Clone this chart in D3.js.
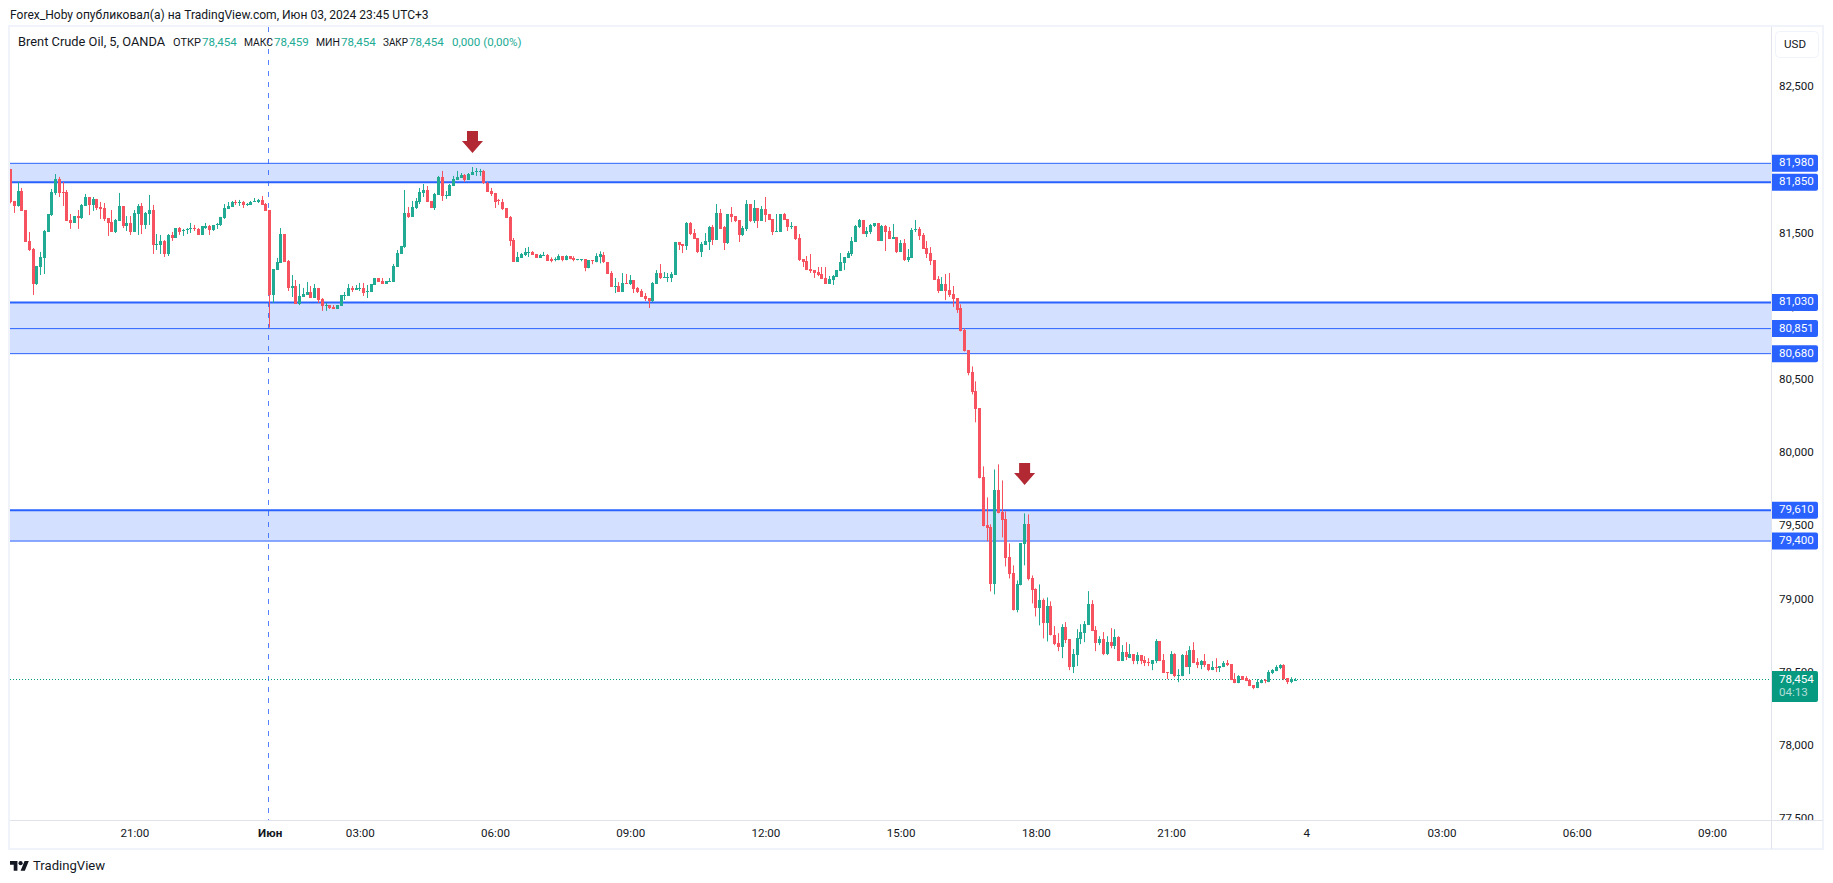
<!DOCTYPE html>
<html>
<head>
<meta charset="utf-8">
<title>Brent Crude Oil, 5, OANDA</title>
<script src="https://cdn.jsdelivr.net/npm/d3@7"></script>
<style>
    html, body { margin: 0; padding: 0; background: #fff; }
    svg { display: block; }
    text { font-family: Roboto, sans-serif; fill: #131722; }
</style>
</head>
<body>
<svg id="chart" width="1833" height="883"></svg>
<script>
const opens = [
    81.942,81.723,81.689,81.791,81.661,81.450,81.395,81.156,81.274,81.336,
    81.511,81.627,81.778,81.873,81.784,81.784,81.593,81.573,81.620,81.607,
    81.689,81.750,81.696,81.737,81.682,81.675,81.607,81.579,81.511,81.586,
    81.689,81.552,81.573,81.511,81.634,81.689,81.559,81.634,81.661,81.422,
    81.422,81.450,81.361,81.491,81.470,81.538,81.523,81.525,81.532,81.538,
    81.532,81.491,81.538,81.552,81.525,81.559,81.559,81.607,81.668,81.682,
    81.716,81.709,81.716,81.696,81.696,81.716,81.716,81.730,81.702,81.661,
    81.081,81.252,81.302,81.497,81.313,81.129,81.142,81.019,81.067,81.081,
    81.101,81.060,81.129,81.053,81.006,81.012,80.999,80.985,81.006,81.074,
    81.074,81.129,81.115,81.122,81.129,81.101,81.101,81.149,81.197,81.176,
    81.156,81.170,81.170,81.272,81.361,81.409,81.641,81.614,81.675,81.716,
    81.778,81.798,81.723,81.675,81.764,81.887,81.757,81.757,81.825,81.866,
    81.880,81.900,81.866,81.900,81.923,81.923,81.928,81.846,81.791,81.778,
    81.730,81.716,81.675,81.614,81.456,81.306,81.334,81.354,81.368,81.375,
    81.361,81.334,81.347,81.354,81.325,81.318,81.318,81.345,81.318,81.345,
    81.332,81.320,81.318,81.325,81.263,81.318,81.304,81.338,81.354,81.306,
    81.231,81.137,81.142,81.101,81.163,81.156,81.183,81.128,81.108,81.074,
    81.060,81.040,81.156,81.231,81.197,81.199,81.197,81.217,81.443,81.429,
    81.415,81.572,81.504,81.470,81.374,81.422,81.443,81.545,81.456,81.641,
    81.545,81.436,81.634,81.620,81.593,81.490,81.531,81.702,81.586,81.675,
    81.586,81.668,81.634,81.600,81.511,81.511,81.634,81.600,81.545,81.552,
    81.470,81.326,81.313,81.258,81.251,81.238,81.224,81.197,81.156,81.183,
    81.204,81.244,81.299,81.333,81.361,81.443,81.545,81.593,81.497,81.511,
    81.552,81.572,81.449,81.552,81.518,81.463,81.477,81.374,81.436,81.320,
    81.333,81.524,81.531,81.490,81.402,81.367,81.319,81.190,81.108,81.156,
    81.115,81.087,81.060,80.989,80.839,80.702,80.552,80.422,80.306,79.835,
    79.507,79.493,79.104,79.746,79.596,79.548,79.288,79.179,78.926,79.097,
    79.377,79.514,79.145,79.070,78.940,78.995,78.837,78.954,78.757,78.703,
    78.675,78.812,78.730,78.539,78.621,78.730,78.771,78.826,78.969,78.791,
    78.703,78.730,78.628,78.709,78.682,78.744,78.580,78.641,78.600,78.628,
    78.580,78.621,78.587,78.573,78.559,78.580,78.716,78.587,78.505,78.491,
    78.628,78.477,78.477,78.621,78.539,78.655,78.573,78.552,78.580,78.559,
    78.518,78.539,78.532,78.539,78.566,78.559,78.457,78.429,78.477,78.464,
    78.450,78.416,78.395,78.429,78.450,78.436,78.498,78.511,78.532,78.552,
    78.464,78.436,78.454
];
const highs = [
    81.942,81.723,81.853,81.812,81.661,81.511,81.402,81.279,81.375,81.525,
    81.634,81.805,81.907,81.887,81.853,81.798,81.634,81.620,81.661,81.702,
    81.771,81.750,81.750,81.737,81.716,81.709,81.607,81.661,81.600,81.778,
    81.689,81.620,81.620,81.661,81.702,81.709,81.648,81.764,81.696,81.497,
    81.491,81.456,81.497,81.511,81.538,81.545,81.532,81.538,81.573,81.559,
    81.538,81.552,81.573,81.559,81.559,81.573,81.614,81.702,81.716,81.723,
    81.730,81.730,81.723,81.709,81.723,81.743,81.737,81.757,81.709,81.661,
    81.258,81.334,81.538,81.497,81.320,81.217,81.183,81.156,81.129,81.170,
    81.142,81.156,81.129,81.060,81.026,81.012,81.012,81.012,81.081,81.101,
    81.156,81.142,81.149,81.163,81.163,81.149,81.156,81.197,81.197,81.197,
    81.176,81.197,81.293,81.388,81.416,81.798,81.682,81.723,81.743,81.812,
    81.839,81.825,81.723,81.778,81.894,81.928,81.791,81.839,81.894,81.928,
    81.914,81.907,81.914,81.955,81.948,81.942,81.935,81.853,81.812,81.778,
    81.737,81.737,81.675,81.620,81.470,81.375,81.368,81.402,81.409,81.381,
    81.361,81.361,81.375,81.361,81.338,81.338,81.359,81.345,81.352,81.345,
    81.345,81.325,81.325,81.325,81.318,81.318,81.366,81.379,81.374,81.306,
    81.244,81.197,81.169,81.231,81.224,81.217,81.183,81.135,81.121,81.094,
    81.060,81.169,81.251,81.292,81.238,81.231,81.238,81.443,81.443,81.429,
    81.579,81.579,81.531,81.470,81.443,81.504,81.552,81.559,81.702,81.668,
    81.552,81.634,81.682,81.620,81.593,81.552,81.729,81.702,81.729,81.675,
    81.688,81.750,81.634,81.600,81.634,81.634,81.641,81.600,81.579,81.552,
    81.497,81.326,81.347,81.361,81.251,81.272,81.272,81.272,81.210,81.217,
    81.251,81.367,81.340,81.381,81.477,81.559,81.600,81.593,81.545,81.566,
    81.572,81.572,81.559,81.559,81.545,81.566,81.477,81.456,81.463,81.395,
    81.538,81.593,81.545,81.504,81.449,81.408,81.319,81.210,81.203,81.224,
    81.231,81.142,81.060,81.017,80.853,80.702,80.593,80.491,80.306,79.910,
    79.698,79.514,79.889,79.924,79.814,79.602,79.384,79.234,79.131,79.384,
    79.589,79.582,79.165,79.077,79.104,79.008,79.015,78.988,78.819,78.771,
    78.832,78.846,78.730,78.662,78.798,78.832,78.853,79.058,78.996,78.819,
    78.750,78.778,78.750,78.805,78.798,78.750,78.689,78.709,78.696,78.628,
    78.641,78.621,78.614,78.600,78.587,78.730,78.716,78.628,78.505,78.648,
    78.634,78.525,78.628,78.648,78.682,78.709,78.600,78.587,78.628,78.559,
    78.580,78.600,78.546,78.580,78.587,78.559,78.498,78.484,78.477,78.477,
    78.457,78.416,78.457,78.457,78.457,78.518,78.525,78.552,78.559,78.559,
    78.464,78.470,78.464
];
const lows = [
    81.707,81.641,81.684,81.655,81.445,81.381,81.081,81.149,81.217,81.224,
    81.511,81.620,81.764,81.750,81.689,81.586,81.532,81.573,81.532,81.600,
    81.689,81.627,81.655,81.661,81.600,81.586,81.484,81.511,81.504,81.586,
    81.538,81.518,81.491,81.511,81.491,81.497,81.532,81.559,81.361,81.388,
    81.361,81.340,81.347,81.450,81.470,81.491,81.484,81.497,81.504,81.518,
    81.491,81.491,81.532,81.491,81.518,81.532,81.552,81.600,81.668,81.682,
    81.696,81.689,81.675,81.689,81.696,81.716,81.709,81.696,81.655,80.858,
    81.026,81.252,81.302,81.306,81.108,81.067,81.019,81.012,81.067,81.081,
    81.060,81.060,81.026,80.972,80.972,80.985,80.985,80.985,81.006,81.047,
    81.074,81.101,81.115,81.108,81.074,81.060,81.101,81.149,81.170,81.156,
    81.156,81.170,81.170,81.272,81.361,81.402,81.607,81.614,81.668,81.702,
    81.750,81.716,81.675,81.661,81.764,81.723,81.737,81.757,81.825,81.866,
    81.880,81.853,81.866,81.900,81.894,81.894,81.839,81.784,81.757,81.675,
    81.696,81.661,81.607,81.416,81.306,81.306,81.334,81.347,81.340,81.354,
    81.334,81.334,81.347,81.313,81.304,81.311,81.318,81.311,81.318,81.325,
    81.311,81.318,81.311,81.243,81.263,81.291,81.304,81.297,81.299,81.224,
    81.135,81.094,81.101,81.101,81.156,81.149,81.094,81.094,81.067,81.040,
    80.992,81.033,81.156,81.190,81.197,81.169,81.169,81.217,81.388,81.367,
    81.388,81.490,81.463,81.367,81.340,81.422,81.388,81.422,81.456,81.531,
    81.388,81.429,81.579,81.579,81.443,81.484,81.518,81.579,81.572,81.538,
    81.586,81.579,81.593,81.490,81.511,81.511,81.593,81.518,81.531,81.456,
    81.313,81.272,81.251,81.231,81.197,81.210,81.190,81.156,81.156,81.149,
    81.204,81.244,81.251,81.333,81.347,81.443,81.538,81.497,81.477,81.497,
    81.545,81.449,81.449,81.381,81.463,81.463,81.367,81.374,81.313,81.306,
    81.333,81.511,81.456,81.395,81.333,81.285,81.183,81.094,81.108,81.046,
    81.067,80.999,80.958,80.832,80.695,80.532,80.402,80.211,79.828,79.500,
    79.398,79.056,79.036,79.589,79.425,79.227,79.145,78.926,78.913,79.097,
    79.234,79.131,78.974,78.885,78.824,78.735,78.714,78.755,78.689,78.648,
    78.600,78.703,78.518,78.498,78.546,78.696,78.709,78.826,78.785,78.648,
    78.689,78.621,78.621,78.668,78.662,78.580,78.580,78.587,78.600,78.559,
    78.559,78.559,78.546,78.546,78.518,78.566,78.580,78.498,78.457,78.491,
    78.470,78.436,78.477,78.539,78.491,78.566,78.532,78.525,78.539,78.511,
    78.518,78.505,78.505,78.539,78.546,78.450,78.429,78.429,78.454,78.443,
    78.409,78.388,78.395,78.429,78.429,78.436,78.491,78.511,78.525,78.450,
    78.423,78.429,78.450
];
const closes = [
    81.714,81.689,81.791,81.655,81.445,81.388,81.156,81.279,81.340,81.518,
    81.634,81.784,81.873,81.778,81.780,81.586,81.573,81.620,81.607,81.696,
    81.750,81.696,81.737,81.675,81.668,81.600,81.573,81.511,81.593,81.689,
    81.552,81.573,81.511,81.641,81.689,81.559,81.641,81.661,81.422,81.429,
    81.450,81.361,81.491,81.470,81.538,81.511,81.525,81.532,81.538,81.532,
    81.491,81.552,81.552,81.525,81.559,81.566,81.614,81.675,81.689,81.716,
    81.709,81.716,81.696,81.702,81.716,81.723,81.730,81.696,81.655,81.081,
    81.258,81.306,81.497,81.306,81.129,81.142,81.019,81.074,81.088,81.101,
    81.060,81.129,81.047,81.006,81.010,80.992,80.985,81.012,81.081,81.081,
    81.129,81.115,81.129,81.129,81.094,81.108,81.156,81.197,81.170,81.156,
    81.176,81.176,81.279,81.368,81.416,81.641,81.614,81.682,81.723,81.784,
    81.798,81.716,81.675,81.771,81.887,81.757,81.764,81.832,81.873,81.887,
    81.900,81.866,81.907,81.921,81.928,81.928,81.846,81.784,81.771,81.716,
    81.723,81.668,81.607,81.450,81.306,81.340,81.361,81.375,81.375,81.354,
    81.334,81.354,81.354,81.313,81.311,81.325,81.345,81.318,81.345,81.325,
    81.318,81.325,81.325,81.263,81.318,81.313,81.345,81.359,81.306,81.224,
    81.135,81.142,81.101,81.163,81.158,81.183,81.121,81.101,81.067,81.053,
    81.040,81.163,81.231,81.197,81.204,81.204,81.224,81.443,81.422,81.415,
    81.572,81.497,81.463,81.374,81.429,81.449,81.545,81.456,81.641,81.531,
    81.436,81.634,81.613,81.586,81.490,81.538,81.702,81.586,81.675,81.586,
    81.668,81.627,81.593,81.511,81.518,81.634,81.593,81.545,81.552,81.463,
    81.320,81.306,81.251,81.244,81.231,81.217,81.190,81.156,81.190,81.210,
    81.251,81.306,81.340,81.367,81.449,81.552,81.593,81.497,81.518,81.559,
    81.572,81.449,81.552,81.511,81.463,81.477,81.374,81.436,81.320,81.340,
    81.524,81.531,81.484,81.395,81.361,81.313,81.183,81.108,81.156,81.108,
    81.080,81.053,80.978,80.832,80.695,80.545,80.415,80.299,79.828,79.500,
    79.486,79.104,79.746,79.589,79.541,79.281,79.172,78.926,79.104,79.384,
    79.514,79.138,79.063,78.940,78.995,78.837,78.954,78.755,78.696,78.675,
    78.812,78.723,78.539,78.628,78.737,78.778,78.832,78.969,78.785,78.703,
    78.730,78.628,78.709,78.682,78.744,78.580,78.641,78.607,78.628,78.580,
    78.621,78.580,78.566,78.568,78.587,78.716,78.580,78.498,78.498,78.628,
    78.477,78.484,78.621,78.539,78.655,78.566,78.552,78.580,78.552,78.518,
    78.539,78.532,78.546,78.566,78.552,78.450,78.429,78.477,78.454,78.443,
    78.409,78.395,78.436,78.450,78.443,78.505,78.518,78.539,78.552,78.457,
    78.436,78.457,78.454
];

const priceTicks = [82.5, 82, 81.5, 81, 80.5, 80, 79.5, 79, 78.5, 78, 77.5];
const levelPrices = [81.98, 81.85, 81.03, 80.851, 80.68, 79.61, 79.4];
const heavyLevels = [81.85, 81.03, 79.61];
const zoneTops = [81.98, 81.03, 79.61];
const zoneBottoms = [81.85, 80.68, 79.4];
const lastPrice = 78.454;
const countdown = '04:13';

const timeTickBars = [33, 69, 93, 129, 165, 201, 237, 273, 309, 345, 381, 417, 453];
const timeTickLabels = ['21:00', 'Июн', '03:00', '06:00', '09:00', '12:00', '15:00', '18:00', '21:00', '4', '03:00', '06:00', '09:00'];
const boldTicks = ['Июн'];
const sessionBar = 69;
const arrowBars = [123, 270];
const arrowPrices = [82.05, 79.783];

const publishedText = 'Forex_Hoby опубликовал(а) на TradingView.com, Июн 03, 2024 23:45 UTC+3';
const legendName = 'Brent Crude Oil, 5, OANDA';
const legendKeys = ['ОТКР', 'МАКС', 'МИН', 'ЗАКР'];
const legendValues = ['78,454', '78,459', '78,454', '78,454'];
const legendChange = '0,000 (0,00%)';

const upColor = '#22ab94';
const downColor = '#f7525f';
const levelColor = '#2962ff';
const lastColor = '#089981';
const arrowColor = '#b22833';
const frameColor = '#f0f3fa';
const dividerColor = '#e0e3eb';

const pane = { left: 10, top: 27, right: 1771, bottom: 820 };
const outer = { left: 9, top: 26, right: 1823, bottom: 849 };

const svg = d3.select('#chart');

const x = d3.scaleLinear().domain([0, 453]).range([10.5, 10.5 + 3.756 * 453]);
const y = d3.scaleLinear().domain([82.5, 77.5]).range([87.2, 819.2]);
const priceText = d => d3.format('.3f')(d).replace('.', ',');

const defs = svg.append('defs');
defs.append('clipPath').attr('id', 'pane-clip').append('rect')
    .attr('x', pane.left).attr('y', pane.top)
    .attr('width', pane.right - pane.left).attr('height', pane.bottom - pane.top);
defs.append('clipPath').attr('id', 'scale-clip').append('rect')
    .attr('x', pane.right).attr('y', pane.top)
    .attr('width', outer.right - pane.right).attr('height', pane.bottom - pane.top);

// top caption
svg.append('text')
    .attr('x', 10).attr('y', 15).attr('dy', '0.35em')
    .attr('font-size', '12.05px')
    .text(publishedText);

const chart = svg.append('g').attr('clip-path', 'url(#pane-clip)');

// shaded zones
chart.selectAll('rect.zone')
    .data(zoneTops)
    .enter()
    .append('rect')
    .attr('class', 'zone')
    .attr('x', pane.left)
    .attr('y', d => y(d))
    .attr('width', pane.right - pane.left)
    .attr('height', (d, i) => y(zoneBottoms[i]) - y(d))
    .attr('fill', levelColor)
    .attr('fill-opacity', 0.2);

// level lines
chart.selectAll('line.level')
    .data(levelPrices)
    .enter()
    .append('line')
    .attr('class', 'level')
    .attr('x1', pane.left)
    .attr('x2', pane.right)
    .attr('y1', d => y(d))
    .attr('y2', d => y(d))
    .attr('stroke', levelColor)
    .attr('stroke-width', d => heavyLevels.includes(d) ? 2 : 1);

// session break
chart.append('line')
    .attr('x1', Math.floor(x(sessionBar)) - 0.5)
    .attr('x2', Math.floor(x(sessionBar)) - 0.5)
    .attr('y1', pane.top)
    .attr('y2', pane.bottom)
    .attr('stroke', levelColor)
    .attr('stroke-opacity', 0.8)
    .attr('stroke-dasharray', '5,6');

// last price line
chart.append('line')
    .attr('x1', pane.left)
    .attr('x2', pane.right)
    .attr('y1', Math.floor(y(lastPrice)) + 0.5)
    .attr('y2', Math.floor(y(lastPrice)) + 0.5)
    .attr('stroke', lastColor)
    .attr('stroke-dasharray', '1,2');

// candles
const candleColor = i => closes[i] < opens[i] ? downColor : upColor;

chart.selectAll('rect.wick')
    .data(d3.range(opens.length))
    .enter()
    .append('rect')
    .attr('class', 'wick')
    .attr('x', i => Math.floor(x(i)))
    .attr('y', i => y(highs[i]))
    .attr('width', 1)
    .attr('height', i => y(lows[i]) - y(highs[i]))
    .attr('fill', candleColor);

chart.selectAll('rect.body')
    .data(d3.range(opens.length))
    .enter()
    .append('rect')
    .attr('class', 'body')
    .attr('x', i => Math.floor(x(i)) - 1)
    .attr('y', i => Math.round(y(Math.max(opens[i], closes[i]))))
    .attr('width', 3)
    .attr('height', i => Math.max(1, Math.round(y(Math.min(opens[i], closes[i]))) - Math.round(y(Math.max(opens[i], closes[i])))))
    .attr('fill', candleColor);

// arrows, tip at the marked price
chart.selectAll('path.arrow')
    .data(arrowBars)
    .enter()
    .append('path')
    .attr('class', 'arrow')
    .attr('transform', (d, i) => `translate(${x(d)},${y(arrowPrices[i])})`)
    .attr('d', 'M-5.5,-22H5.5V-12H10.5L0,0L-10.5,-12H-5.5Z')
    .attr('fill', arrowColor);

// legend line
const legend = svg.append('g').attr('font-size', '11.6px');
const legendKeyX = [173, 244, 316, 383];
const legendValueX = [202, 274, 341, 409];

legend.append('text')
    .attr('x', 18).attr('y', 41.5).attr('dy', '0.35em')
    .attr('font-size', '12.85px')
    .text(legendName);
legend.selectAll('text.key')
    .data(legendKeys)
    .enter()
    .append('text')
    .attr('class', 'key')
    .attr('x', (d, i) => legendKeyX[i])
    .attr('y', 41.5)
    .attr('dy', '0.35em')
    .attr('textLength', (d, i) => legendValueX[i] - legendKeyX[i] - 1)
    .attr('lengthAdjust', 'spacingAndGlyphs')
    .text(d => d);
legend.selectAll('text.value')
    .data(legendValues)
    .enter()
    .append('text')
    .attr('class', 'value')
    .attr('x', (d, i) => legendValueX[i])
    .attr('y', 41.5)
    .attr('dy', '0.35em')
    .style('fill', upColor)
    .text(d => d);
legend.append('text')
    .attr('x', 452).attr('y', 41.5).attr('dy', '0.35em')
    .style('fill', upColor)
    .text(legendChange);

// price scale
const priceAxis = d3.axisRight(y)
    .tickValues(priceTicks)
    .tickSize(0)
    .tickPadding(0)
    .tickFormat(priceText);

svg.append('g')
    .attr('clip-path', 'url(#scale-clip)')
    .append('g')
    .attr('transform', 'translate(1779,-1.2)')
    .call(priceAxis)
    .call(g => g.select('.domain').remove())
    .call(g => g.selectAll('text').attr('font-size', '11.6px').attr('font-family', 'Roboto, sans-serif'));

// level tags
const tags = svg.selectAll('g.tag')
    .data(levelPrices)
    .enter()
    .append('g')
    .attr('class', 'tag')
    .attr('transform', d => `translate(${pane.right},${y(d)})`);

tags.append('path')
    .attr('d', 'M0,-8.5H45a2,2 0 0 1 2,2V6.5a2,2 0 0 1 -2,2H0Z')
    .attr('fill', levelColor);

tags.append('text')
    .attr('x', 8)
    .attr('y', -1)
    .attr('dy', '0.35em')
    .attr('font-size', '11.6px')
    .style('fill', '#fff')
    .text(priceText);

// last price tag
const lastTag = svg.append('g')
    .attr('transform', `translate(${pane.right},${y(lastPrice)})`);

lastTag.append('path')
    .attr('d', 'M0,-8.5H45a2,2 0 0 1 2,2V20.5a2,2 0 0 1 -2,2H0Z')
    .attr('fill', lastColor);
lastTag.append('text')
    .attr('x', 8).attr('y', -1).attr('dy', '0.35em')
    .attr('font-size', '11.6px')
    .style('fill', '#fff')
    .text(priceText(lastPrice));
lastTag.append('text')
    .attr('x', 8).attr('y', 12.5).attr('dy', '0.35em')
    .attr('font-size', '11.6px')
    .style('fill', '#fff')
    .style('fill-opacity', 0.7)
    .text(countdown);

// time scale
const timeAxis = d3.axisBottom(x)
    .tickValues(timeTickBars)
    .tickSize(0)
    .tickPadding(0)
    .tickFormat((d, i) => timeTickLabels[i]);

svg.append('g')
    .attr('transform', `translate(0,${pane.bottom})`)
    .call(timeAxis)
    .call(g => g.select('.domain').remove())
    .call(g => g.selectAll('text')
        .attr('y', 13)
        .attr('dy', '0.35em')
        .attr('font-size', '11.6px')
        .attr('font-family', 'Roboto, sans-serif')
        .attr('font-weight', (d, i) => boldTicks.includes(timeTickLabels[i]) ? 700 : 400));

// pane frame and dividers
svg.append('rect')
    .attr('x', outer.left).attr('y', outer.top)
    .attr('width', outer.right - outer.left).attr('height', outer.bottom - outer.top)
    .attr('fill', 'none')
    .attr('stroke', frameColor)
    .attr('stroke-width', 2);
svg.append('line')
    .attr('x1', pane.right + 0.5).attr('x2', pane.right + 0.5)
    .attr('y1', pane.top).attr('y2', outer.bottom)
    .attr('stroke', dividerColor);
svg.append('line')
    .attr('x1', pane.left).attr('x2', outer.right)
    .attr('y1', pane.bottom + 0.5).attr('y2', pane.bottom + 0.5)
    .attr('stroke', dividerColor);

// currency button
svg.append('rect')
    .attr('x', 1775.5).attr('y', 31.5)
    .attr('width', 43).attr('height', 26).attr('rx', 4)
    .attr('fill', '#fff')
    .attr('stroke', frameColor);
svg.append('text')
    .attr('x', 1795).attr('y', 44).attr('dy', '0.35em')
    .attr('text-anchor', 'middle')
    .attr('font-size', '11.6px')
    .text('USD');

// footer logo
const logo = svg.append('g').attr('transform', 'translate(10,859) scale(0.53)');
logo.append('path')
    .attr('d', 'M14 22H7V11H0V4h14v18zM28 22h-8l7.5-18h8L28 22z')
    .attr('fill', '#131722');
logo.append('circle').attr('cx', 20).attr('cy', 8).attr('r', 4).attr('fill', '#131722');
svg.append('text')
    .attr('x', 33).attr('y', 865).attr('dy', '0.35em')
    .attr('font-size', '13.1px')
    .text('TradingView');
</script>
</body>
</html>
